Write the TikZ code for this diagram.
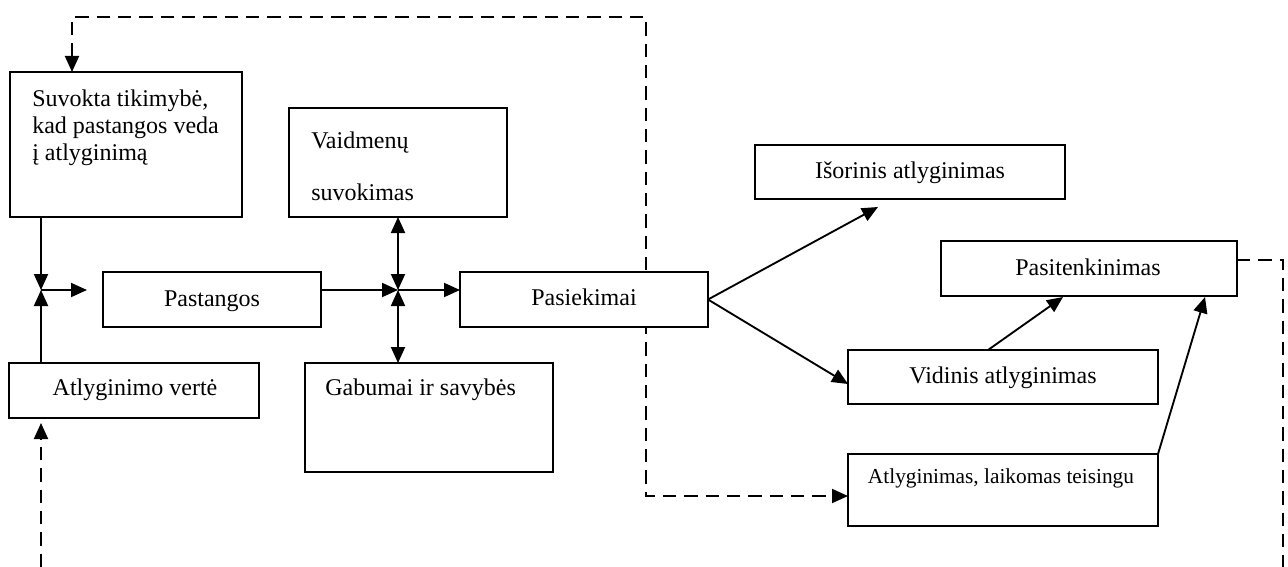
\documentclass[tikz,border=0pt]{standalone}
\usepackage{fontspec}
\setmainfont{Liberation Serif}
\usetikzlibrary{arrows.meta,fit,calc}
\pgfdeclarelayer{back}
\pgfsetlayers{back,main}
\begin{document}
\begin{tikzpicture}[x=0.75pt,y=-0.75pt,
  box/.style={draw,line width=1.3pt,fill=white,inner sep=0pt,outer sep=0pt},
  txt/.style={inner sep=0pt,font=\fontsize{18pt}{21pt}\selectfont},
  smalltxt/.style={inner sep=0pt,font=\fontsize{16pt}{19pt}\selectfont},
  tip/.style={Triangle[length=12pt,width=10.5pt]},
  conn/.style={line width=1.4pt,-{Triangle[length=12pt,width=10.5pt]}},
  twoway/.style={line width=1.4pt,{Triangle[length=12pt,width=10.5pt]}-{Triangle[length=12pt,width=10.5pt]}},
  dashline/.style={line width=1.4pt,dash pattern=on 10pt off 6pt}
]
\useasboundingbox (0,0) rectangle (1288,567);

% boxes
\node[box,fit={(10,72) (242,217)}] (tik) {};
\node[box,fit={(289,108) (507,217)}] (vaid) {};
\node[box,fit={(103,272) (321,327)}] (past) {};
\node[box,fit={(460,272) (708,327)}] (pasiek) {};
\node[box,fit={(9,363) (259,418)}] (verte) {};
\node[box,fit={(305,363) (553,472)}] (gab) {};
\node[box,fit={(755,145) (1065,199)}] (isor) {};
\node[box,fit={(941,241) (1237,296)}] (pasit) {};
\node[box,fit={(848,350) (1158,404)}] (vid) {};
\node[box,fit={(848,454) (1158,526)}] (teis) {};

% texts
\node[txt,anchor=base west] (tik1) at (32,106) {Suvokta tikimybė,};
\node[txt,anchor=base west] (tik2) at (32,133) {kad pastangos veda};
\node[txt,anchor=base west] (tik3) at (32,160) {į atlyginimą};
\node[txt,anchor=base west] (vaid1) at (311,148) {Vaidmenų};
\node[txt,anchor=base west] (vaid2) at (311,200) {suvokimas};
\node[txt,anchor=base] (pastT) at (212,306) {Pastangos};
\node[txt,anchor=base] (pasiekT) at (584,305) {Pasiekimai};
\node[txt,anchor=base] (verteT) at (135,395) {Atlyginimo vertė};
\node[txt,anchor=base west] (gabT) at (325,395) {Gabumai ir savybės};
\node[txt,anchor=base] (isorT) at (910,178) {Išorinis atlyginimas};
\node[txt,anchor=base] (pasitT) at (1088,275) {Pasitenkinimas};
\node[txt,anchor=base] (vidT) at (1003,383) {Vidinis atlyginimas};
\node[smalltxt,anchor=base] (teisT) at (1001,483) {Atlyginimas, laikomas teisingu};

% junctions and free ends
\coordinate (j1) at (41,290);
\coordinate (j1out) at (87,290);
\coordinate (j2) at (398,290);
\coordinate (tikIn) at (72,72);
\coordinate (topL) at (72,17);
\coordinate (topR) at (646,17);
\coordinate (turn) at (646,496);
\coordinate (teisIn) at (848,496);
\coordinate (verteIn) at (41,423);
\coordinate (botL) at (41,567);
\coordinate (isorIn) at (878,207);
\coordinate (vidIn) at (848,384);
\coordinate (vidOut) at (988,350);
\coordinate (pasitIn1) at (1063,297);
\coordinate (pasitIn2) at (1205,297);
\coordinate (pasitOut) at (1237,260);
\coordinate (rightTop) at (1283,260);
\coordinate (rightBot) at (1283,567);

% dashed feedback loops (behind the boxes)
\begin{pgfonlayer}{back}
\draw[dashline,{Triangle[length=12pt,width=10.5pt]}-{Triangle[length=12pt,width=10.5pt]}]
  (tikIn) -- (topL) -- (topR) -- (turn) -- (teisIn);
\draw[dashline,-{Triangle[length=12pt,width=10.5pt]}] (botL) -- (verteIn);
\draw[dashline] (pasitOut) -- (rightTop) -- (rightBot);
\end{pgfonlayer}

% solid connectors
\draw[conn] (tik.south -| j1) -- (j1);
\draw[conn] (verte.north -| j1) -- (j1);
\draw[conn] (j1) -- (j1out);
\draw[conn] (past.east |- j2) -- (j2);
\draw[conn] (j2) -- (pasiek.west |- j2);
\draw[twoway] (vaid.south -| j2) -- (j2);
\draw[twoway] (j2) -- (gab.north -| j2);
\draw[conn] (pasiek.east) -- (isorIn);
\draw[conn] (pasiek.east) -- (vidIn);
\draw[conn] (vidOut) -- (pasitIn1);
\draw[conn] (teis.north east) -- (pasitIn2);
\end{tikzpicture}
\end{document}
